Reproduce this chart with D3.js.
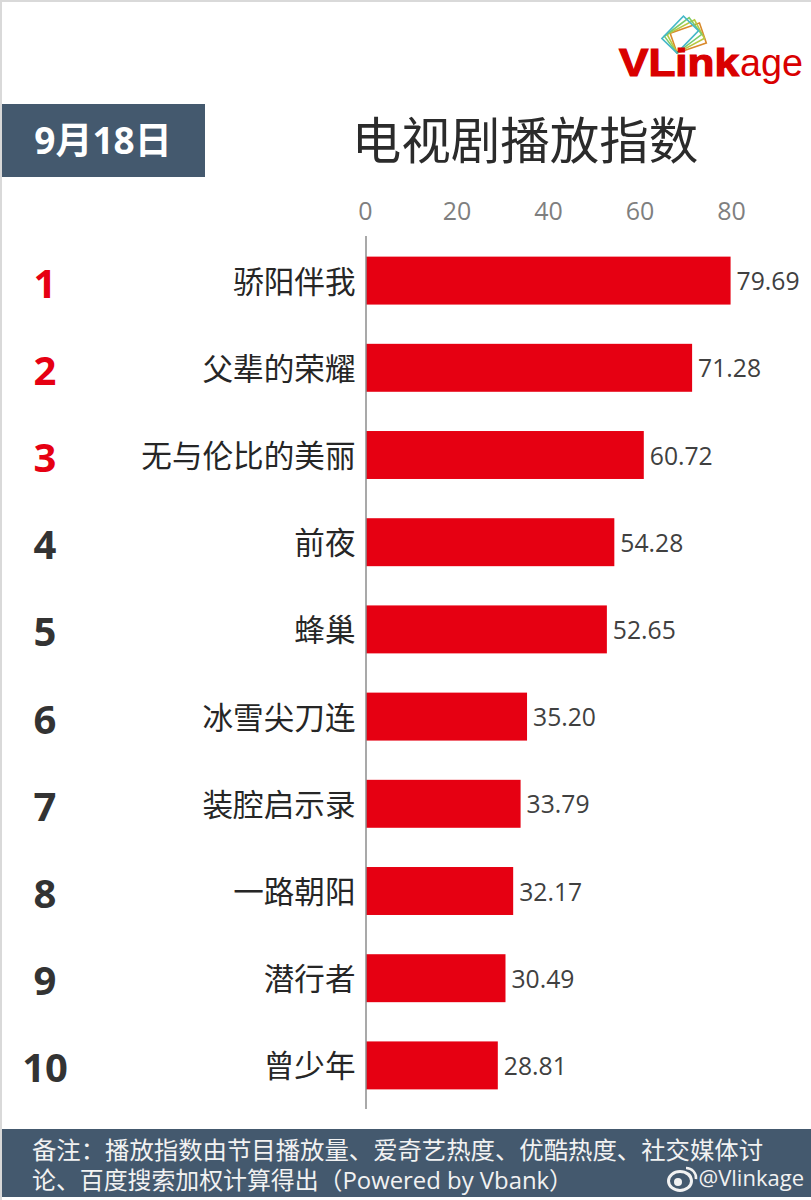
<!DOCTYPE html>
<html><head><meta charset="utf-8">
<script src="https://cdn.jsdelivr.net/npm/d3@7"></script>
<style>html,body{margin:0;padding:0;background:#fff}svg{display:block}</style></head>
<body><svg id="c" width="811" height="1200"></svg>
<script>
const shows=["骄阳伴我","父辈的荣耀","无与伦比的美丽","前夜","蜂巢","冰雪尖刀连","装腔启示录","一路朝阳","潜行者","曾少年"];
const values=[79.69,71.28,60.72,54.28,52.65,35.20,33.79,32.17,30.49,28.81];
const ranks=[1,2,3,4,5,6,7,8,9,10];
const ticks=[0,20,40,60,80];
const title="电视剧播放指数";
const dateLabel="9月18日";
const noteLines=["备注：播放指数由节目播放量、爱奇艺热度、优酷热度、社交媒体讨","论、百度搜索加权计算得出（Powered by Vbank）"];
const handle="@Vlinkage";
const logoColors=["#d98a2b","#b9c840","#7ccb6a","#45b8c8"];

const cjk='"Noto Sans CJK SC","Noto Sans",sans-serif';
const latin='"Open Sans","Noto Sans CJK SC",sans-serif';
const svg=d3.select("#c");
const x=d3.scaleLinear().domain([0,80]).range([366,732]);
const y=d3.scaleBand().domain(shows).range([237,1109]).paddingInner(0.45).paddingOuter(0.225);

// frame
svg.append("rect").attr("x",0).attr("y",0).attr("width",811).attr("height",2).attr("fill","#d9d9d9");
svg.append("rect").attr("x",0).attr("y",0).attr("width",2).attr("height",1200).attr("fill","#d9d9d9");

// date box & title
svg.append("rect").attr("x",2).attr("y",104).attr("width",203).attr("height",73).attr("fill","#44596e");
svg.append("text").attr("x",103).attr("y",154).attr("text-anchor","middle").attr("font-family",latin)
  .attr("font-size",37).attr("font-weight",700).attr("fill","#fff").text(dateLabel);
svg.append("text").attr("x",525).attr("y",159).attr("text-anchor","middle").attr("font-family",cjk)
  .attr("font-size",49.5).attr("fill","#2b2b2b").text(title);

// logo
const logo=svg.append("g").attr("fill","none").attr("stroke-width",1.6);
logoColors.forEach((c,i)=>{
  logo.append("rect").attr("x",0).attr("y",-21).attr("width",31).attr("height",21)
    .attr("stroke",c).attr("transform",`translate(677,53) rotate(${[-19,-28,-37,-46][i]})`);
});
svg.append("text").attr("x",619).attr("y",75.5).attr("font-family","Liberation Sans,Arial,sans-serif")
  .attr("font-size",39).attr("font-weight",700).attr("fill","#d90000").attr("stroke","#d90000").attr("stroke-width",1.2)
  .attr("textLength",120).attr("lengthAdjust","spacingAndGlyphs").text("VLink");
svg.append("text").attr("x",740).attr("y",75.5).attr("font-family","Liberation Sans,Arial,sans-serif")
  .attr("font-size",38).attr("fill","#d90000").attr("textLength",63).attr("lengthAdjust","spacingAndGlyphs").text("age");

// axis
const ax=d3.axisTop(x).tickValues(ticks).tickSize(0).tickPadding(0);
const axG=svg.append("g").attr("transform","translate(-1,219.5)").call(ax);
axG.select(".domain").remove();
axG.selectAll("text").attr("font-family",latin).attr("font-size",25).attr("fill","#7f7f7f").attr("dy",0);

// bars
svg.append("g").selectAll("rect").data(shows).join("rect")
  .attr("x",x(0)).attr("y",d=>y(d)).attr("height",y.bandwidth())
  .attr("width",(d,i)=>x(values[i])-x(0)).attr("fill","#e60012");
svg.append("line").attr("x1",366).attr("x2",366).attr("y1",236).attr("y2",1109).attr("stroke","#8c8c8c").attr("stroke-width",1.5);

const cy=d=>y(d)+y.bandwidth()/2;
svg.append("g").selectAll("text").data(shows).join("text")
  .attr("x",355.5).attr("y",d=>cy(d)+12).attr("text-anchor","end").attr("font-family",cjk)
  .attr("font-size",30.6).attr("fill","#262626").text(d=>d);
svg.append("g").selectAll("text").data(shows).join("text")
  .attr("x",(d,i)=>x(values[i])+6).attr("y",d=>cy(d)+9.5).attr("font-family",latin)
  .attr("font-size",24.7).attr("fill","#404040").text((d,i)=>values[i].toFixed(2));
svg.append("g").selectAll("text").data(shows).join("text")
  .attr("x",45).attr("y",d=>cy(d)+17).attr("text-anchor","middle").attr("font-family",latin)
  .attr("font-size",40).attr("font-weight",700).attr("fill",(d,i)=>i<3?"#e60012":"#333")
  .text((d,i)=>ranks[i]);

// footer
svg.append("rect").attr("x",2).attr("y",1129).attr("width",809).attr("height",68).attr("fill","#44596e");
noteLines.forEach((t,i)=>svg.append("text").attr("x",32).attr("y",[1159,1189][i]).attr("font-family",latin)
  .attr("font-size",24).attr("fill","#f2f2f2").attr("textLength",i==0?731:541).attr("lengthAdjust","spacingAndGlyphs").text(t));
svg.append("text").attr("x",804).attr("y",1186).attr("text-anchor","end").attr("font-family",latin)
  .attr("font-size",22).attr("fill","#f2f2f2").text(handle);
const w=svg.append("g").attr("fill","none").attr("stroke","#f2f2f2");
w.append("ellipse").attr("cx",680).attr("cy",1181).attr("rx",11.5).attr("ry",9.5).attr("stroke-width",3);
w.append("circle").attr("cx",678).attr("cy",1182).attr("r",4).attr("fill","#f2f2f2").attr("stroke","none");
w.append("path").attr("d","M686 1168 a10 10 0 0 1 10 11").attr("stroke-width",2.5);
w.append("path").attr("d","M686 1173 a5 5 0 0 1 5 5").attr("stroke-width",2);
</script></body></html>
